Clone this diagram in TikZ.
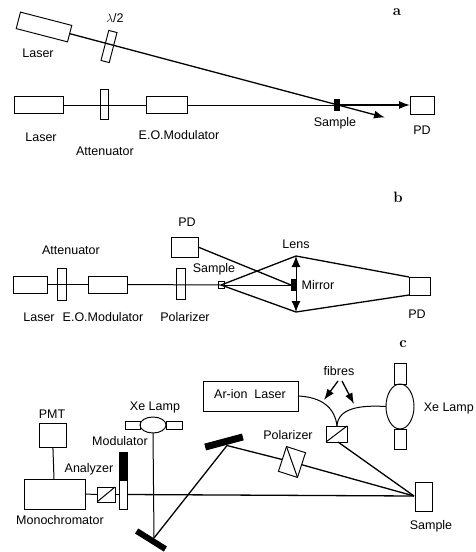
\documentclass[tikz,border=0pt]{standalone}
\usepackage{fontspec}
\setsansfont{Liberation Sans}
\usepackage{tikz}
\usetikzlibrary{arrows.meta,shapes.geometric}
\tikzset{
  unit/.style={draw,rectangle,inner sep=0pt,outer sep=0pt,line width=0.95pt},
  blackbar/.style={unit,fill=black},
  lampbulb/.style={draw,ellipse,line width=0.95pt,inner sep=0pt,outer sep=0pt},
  beam/.style={line width=1pt},
  ray/.style={line width=1.3pt},
  lbl/.style={inner sep=0pt,font=\sffamily\fontsize{12.5}{14}\selectfont},
  panel/.style={inner sep=0pt,font=\rmfamily\bfseries\fontsize{15}{17}\selectfont},
  bigtip/.style={-{Latex[length=11pt,width=8pt]}},
}
\begin{document}
\begin{tikzpicture}[x=1pt,y=-1pt]
\useasboundingbox (0,0) rectangle (475,552);
% a
\node[unit,minimum width=53pt,minimum height=17pt,rotate=-14.5] (laserUp) at (44,27) {};
\node[unit,minimum width=8.5pt,minimum height=31pt,rotate=-14.5] (halfwave) at (109,46.5) {};
\node[unit,minimum width=49pt,minimum height=17pt] (laserLow) at (38.5,105) {};
\node[unit,minimum width=8pt,minimum height=30pt] (attA) at (104,104) {};
\node[unit,minimum width=41pt,minimum height=17pt] (eomA) at (166.5,105) {};
\node[blackbar,minimum width=4.5pt,minimum height=11pt] (sampleA) at (337,105) {};
\node[unit,minimum width=24pt,minimum height=18pt] (pdA) at (422,105) {};
\coordinate (exitA) at (385,117.5);
\draw[ray,bigtip] (laserUp.east) -- (exitA);
\draw[beam] (laserLow.east) -- (eomA.west);
\draw[beam] (eomA.east) -- (sampleA);
\draw[ray,bigtip] (sampleA) -- (pdA.west);
\node[lbl] (halfwaveL) at (115,18) {$\lambda$/2};
\node[lbl] (laserUpL) at (38,53) {Laser};
\node[lbl] (laserLowL) at (41,137) {Laser};
\node[lbl] (attAL) at (105,151) {Attenuator};
\node[lbl] (eomAL) at (179,135) {E.O.Modulator};
\node[lbl] (sampleAL) at (335,123) {Sample};
\node[lbl] (pdAL) at (422,130) {PD};
\node[panel] (panelA) at (397,12) {a};
% b
\node[unit,minimum width=34pt,minimum height=17pt] (laserB) at (30,284.5) {};
\node[unit,minimum width=9pt,minimum height=32pt] (attB) at (61.5,284) {};
\node[unit,minimum width=39pt,minimum height=17pt] (eomB) at (107.5,284.5) {};
\node[unit,minimum width=9pt,minimum height=31pt] (polB) at (180.5,283.5) {};
\node[unit,minimum width=6pt,minimum height=7pt] (sampleB) at (221,285) {};
\node[unit,minimum width=27pt,minimum height=20pt] (pdUp) at (184.5,247) {};
\node[blackbar,minimum width=5pt,minimum height=11pt] (mirrorB) at (293.5,285) {};
\node[unit,minimum width=21pt,minimum height=18pt] (pdB) at (419.5,286) {};
\coordinate (lensTop) at (296,256);
\coordinate (lensBot) at (296,312);
\draw[beam] (laserB.east) -- (eomB.west);
\draw[beam] (eomB.east) -- (sampleB.center);
\draw[beam] (sampleB.center) -- (mirrorB.west);
\draw[ray] (pdUp.east) -- (mirrorB.west);
\draw[ray] (sampleB.center) -- (lensTop) -- (pdB.north west);
\draw[ray] (sampleB.center) -- (lensBot) -- (pdB.south west);
\draw[beam,{Latex[length=11pt,width=9pt]}-{Latex[length=11pt,width=9pt]}] (lensTop) -- (lensBot);
\node[lbl] (attBL) at (71,250) {Attenuator};
\node[lbl] (laserBL) at (39,317) {Laser};
\node[lbl] (eomBL) at (103,317) {E.O.Modulator};
\node[lbl] (polBL) at (185,317) {Polarizer};
\node[lbl] (pdUpL) at (187,222) {PD};
\node[lbl] (sampleBL) at (214,269) {Sample};
\node[lbl] (lensL) at (296,244) {Lens};
\node[lbl] (mirrorL) at (318,285) {Mirror};
\node[lbl] (pdBL) at (417,314) {PD};
\node[panel] (panelB) at (398,197) {b};
% c
\node[unit,minimum width=27pt,minimum height=24pt] (pmt) at (52.5,435) {};
\node[unit,minimum width=61pt,minimum height=30pt] (mono) at (54.5,494) {};
\node[unit,minimum width=18pt,minimum height=15pt] (analyzer) at (106,494.5) {};
\node[unit,minimum width=8pt,minimum height=57pt] (modul) at (123,480.5) {};
\node[blackbar,minimum width=8pt,minimum height=28pt] (modulBlack) at (123,466) {};
\node[lampbulb,minimum width=26pt,minimum height=16pt] (lampSmall) at (153,425) {};
\node[unit,minimum width=15pt,minimum height=8pt,anchor=east] (lampSmallL) at (lampSmall.west) {};
\node[unit,minimum width=16pt,minimum height=8pt,anchor=west] (lampSmallR) at (lampSmall.east) {};
\node[blackbar,minimum width=33pt,minimum height=5pt,rotate=-32] (mirrorLow) at (151,540) {};
\node[blackbar,minimum width=38pt,minimum height=6pt,rotate=15] (mirrorUp) at (224,442) {};
\node[unit,minimum width=20pt,minimum height=26pt,rotate=-18] (polC) at (292,462) {};
\node[unit,minimum width=21pt,minimum height=16pt] (polTop) at (336.5,434) {};
\node[unit,minimum width=17pt,minimum height=29pt] (sampleC) at (423.5,496.5) {};
\node[unit,minimum width=95pt,minimum height=30pt] (arLaser) at (250.5,396) {};
\node[lampbulb,minimum width=28pt,minimum height=45pt] (lampBig) at (400,406.5) {};
\node[unit,minimum width=12pt,minimum height=21pt,anchor=south] (lampBigT) at (lampBig.north) {};
\node[unit,minimum width=12pt,minimum height=20pt,anchor=north] (lampBigB) at (lampBig.south) {};
\coordinate (hitLow) at (154,538);
\coordinate (hitUp) at (227,445.5);
\coordinate (hitSample) at (414,496);
\coordinate (fibreEnd) at (337,426);
\coordinate (polExit) at (338,442);
\coordinate (fibresA) at (338,381);
\coordinate (fibresB) at (342,381);
\coordinate (fibresTipA) at (324,400);
\coordinate (fibresTipB) at (354,404);
\draw[beam] (pmt) -- (mono);
\draw[beam] (mono.east) -- (analyzer.west);
\draw[beam] (analyzer.east) -- (modul.west |- analyzer.east);
\draw[ray] (modul.east |- analyzer.east) -- (hitSample);
\draw[beam] (analyzer.south west) -- (analyzer.north east);
\draw[beam] (lampSmall.south) -- (hitLow);
\draw[ray] (hitLow) -- (hitUp);
\draw[ray] (hitUp) -- (polC);
\draw[ray] (polC) -- (hitSample);
\draw[beam] (polC.north west) -- (polC.south east);
\draw[ray] (polExit) -- (hitSample);
\draw[beam] (polTop.south west) -- (polTop.north east);
\draw[beam] (arLaser.east) .. controls (322,397) and (335,408) .. (fibreEnd);
\draw[beam] (lampBig.west) .. controls (360,405) and (338,408) .. (fibreEnd);
\draw[ray,bigtip] (fibresA) -- (fibresTipA);
\draw[ray,bigtip] (fibresB) -- (fibresTipB);
\node[lbl] (pmtL) at (52,414) {PMT};
\node[lbl] (monoL) at (60,520) {Monochromator};
\node[lbl] (analyzerL) at (89,469) {Analyzer};
\node[lbl] (modulL) at (120,441) {Modulator};
\node[lbl] (lampSmallLbl) at (155,407) {Xe Lamp};
\node[lbl] (polCL) at (288,435) {Polarizer};
\node[lbl] (arLaserL) at (250,394) {Ar-ion\ \ Laser};
\node[lbl] (fibresL) at (339,371) {fibres};
\node[lbl,anchor=east] (lampBigL) at (474,408) {Xe Lamp};
\node[lbl] (sampleCL) at (431,526) {Sample};
\node[panel] (panelC) at (403,344) {c};
\end{tikzpicture}
\end{document}
